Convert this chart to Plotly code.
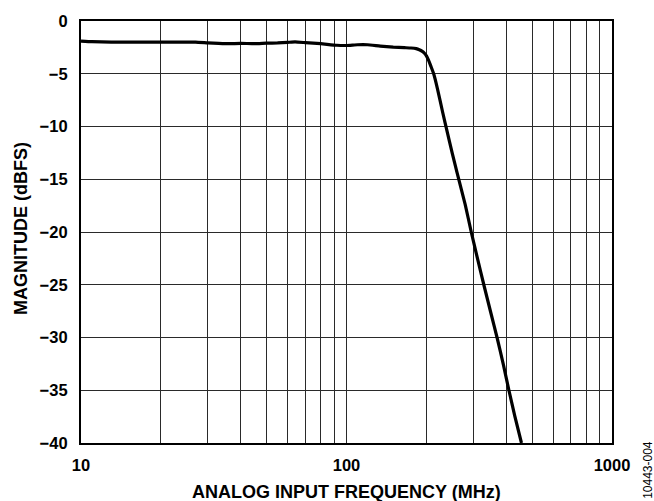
import plotly.graph_objects as go

# Frequency (MHz) and magnitude (dBFS)
freq_mhz = [10, 11, 13, 15, 20, 25, 27, 30, 33, 36, 40, 45, 50, 55, 60, 64, 70,
            80, 92, 100, 110, 120, 134, 150, 165, 175, 183, 188, 193, 197, 200,
            204, 208, 213, 220, 230, 240, 250, 261, 280, 295, 312, 329, 350,
            369, 390, 409, 430, 456]
mag_dbfs = [-1.9, -1.96, -2.0, -2.0, -2.0, -2.0, -2.0, -2.07, -2.12, -2.15, -2.12,
            -2.15, -2.1, -2.08, -2.03, -1.98, -2.05, -2.15, -2.3, -2.32, -2.25,
            -2.25, -2.38, -2.48, -2.53, -2.56, -2.62, -2.72, -2.88, -3.08, -3.3,
            -3.75, -4.3, -5.0, -6.4, -8.6, -10.6, -12.5, -14.4, -17.4, -20.0,
            -22.6, -25.0, -27.7, -30.0, -32.6, -35.0, -37.4, -40.0]

x_tick_vals = [10, 100, 1000]
x_tick_text = ["10", "100", "1000"]
x_minor_vals = [20, 30, 40, 50, 60, 70, 80, 90, 200, 300, 400, 500, 600, 700, 800, 900]
y_tick_vals = [0, -5, -10, -15, -20, -25, -30, -35, -40]
y_tick_text = ["0", "\u22125", "\u221210", "\u221215", "\u221220", "\u221225",
               "\u221230", "\u221235", "\u221240"]

FONT = "Liberation Sans, Arial, Helvetica, sans-serif"

fig = go.Figure()
fig.add_trace(go.Scatter(
    x=freq_mhz, y=mag_dbfs, mode="lines",
    line=dict(color="black", width=3.2, shape="spline", smoothing=0.4),
    showlegend=False, cliponaxis=True,
))

fig.update_layout(
    width=654, height=501,
    margin=dict(l=81, r=42, t=19, b=58),
    paper_bgcolor="white", plot_bgcolor="white",
    font=dict(family=FONT, color="black"),
    xaxis=dict(
        type="log", range=[1, 3],
        tickmode="array", tickvals=x_tick_vals, ticktext=x_tick_text,
        tickfont=dict(size=16.5, family=FONT, weight="bold"),
        ticks="", showgrid=True, gridcolor="#2a2a2a", gridwidth=1.2,
        minor=dict(tickmode="array", tickvals=x_minor_vals, showgrid=True,
                   gridcolor="#2a2a2a", gridwidth=1.2, ticks=""),
        showline=True, linecolor="black", linewidth=2.2, mirror=True,
        zeroline=False, ticklabelstandoff=6,
    ),
    yaxis=dict(
        range=[-40, 0],
        tickmode="array", tickvals=y_tick_vals, ticktext=y_tick_text,
        tickfont=dict(size=16.5, family=FONT, weight="bold"),
        ticks="", showgrid=True, gridcolor="#2a2a2a", gridwidth=1.2,
        showline=True, linecolor="black", linewidth=2.2, mirror=True,
        zeroline=False, ticklabelstandoff=8,
    ),
    annotations=[
        dict(text="ANALOG INPUT FREQUENCY (MHz)", xref="paper", yref="paper",
             x=0.5, y=(443 - 492) / 424, xanchor="center", yanchor="middle",
             showarrow=False, font=dict(size=18, family=FONT, weight="bold")),
        dict(text="MAGNITUDE (dBFS)", xref="paper", yref="paper",
             x=(21 - 81) / 531, y=(443 - 228) / 424, xanchor="center", yanchor="middle",
             textangle=-90, showarrow=False,
             font=dict(size=18, family=FONT, weight="bold")),
        dict(text="10443-004", xref="paper", yref="paper",
             x=(648 - 81) / 531, y=(443 - 470) / 424, xanchor="center", yanchor="middle",
             textangle=-90, showarrow=False,
             font=dict(size=12, family=FONT)),
    ],
)

fig.write_html("out.html", config={"displayModeBar": False})

# remove the default browser body margin so the figure sits at the window origin
with open("out.html", "r", encoding="utf-8") as f:
    html = f.read()
html = html.replace("<body>", '<body style="margin:0;padding:0;overflow:hidden">', 1)
with open("out.html", "w", encoding="utf-8") as f:
    f.write(html)
